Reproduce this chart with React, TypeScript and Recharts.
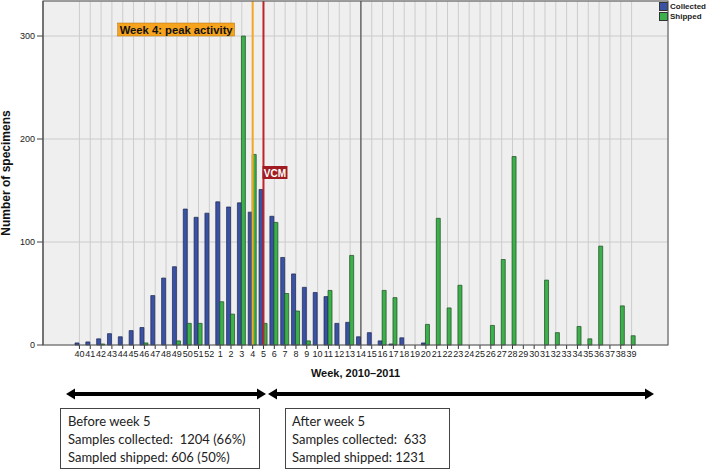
import React from 'react';
import {
    BarChart,
    Bar,
    XAxis,
    YAxis,
    CartesianGrid,
    ReferenceLine,
    Legend,
} from 'recharts';

const weeks = [
    '40', '41', '42', '43', '44', '45', '46', '47', '48', '49', '50', '51', '52',
    '1', '2', '3', '4', '5', '6', '7', '8', '9', '10', '11', '12', '13',
    '14', '15', '16', '17', '18', '19', '20', '21', '22', '23', '24', '25', '26',
    '27', '28', '29', '30', '31', '32', '33', '34', '35', '36', '37', '38', '39',
];

const collected = [
    2, 3, 6, 11, 8, 14, 17, 48, 65, 76, 132, 124, 128,
    139, 134, 138, 129, 151, 125, 85, 69, 56, 51, 47, 21, 22,
    8, 12, 4, 1, 7, 0, 2, 0, 0, 0, 0, 0, 0,
    0, 0, 0, 0, 0, 0, 0, 0, 0, 0, 0, 0, 0,
];

const shipped = [
    0, 0, 1, 0, 0, 0, 2, 0, 0, 4, 21, 21, 0,
    42, 30, 300, 185, 21, 119, 50, 33, 4, 0, 53, 0, 87,
    0, 0, 53, 46, 0, 0, 20, 123, 36, 58, 0, 0, 19,
    83, 183, 0, 0, 63, 12, 0, 18, 6, 96, 0, 38, 9,
];

const yTicks = [0, 100, 200, 300];

const data = weeks.map((week, i) => ({
    week,
    collected: collected[i],
    shipped: shipped[i],
}));

const BLUE = '#3a52a4';
const GREEN = '#3cb04a';

const renderLegend = () => (
    <div style={{ fontFamily: 'Liberation Sans, Arial', fontSize: 8, fontWeight: 'bold', color: '#222', lineHeight: '9.5px' }}>
        {[['Collected', BLUE], ['Shipped', GREEN]].map(([name, color]) => (
            <div key={name} style={{ display: 'flex', alignItems: 'center' }}>
                <span style={{ display: 'inline-block', width: 7, height: 7, background: color, border: '1px solid #333', marginRight: 2 }} />
                {name}
            </div>
        ))}
    </div>
);

const PeakLabel = (props: any) => {
    const x = props.viewBox.x;
    return (
        <g>
            <rect x={x - 135} y={23} width={117} height={13} fill="#f6a31e" stroke="#b07010" strokeWidth={0.5} />
            <text
                x={x - 133}
                y={34}
                fontSize={11.5}
                fontWeight="bold"
                fill="#111"
                textLength={113}
                lengthAdjust="spacingAndGlyphs"
            >
                Week 4: peak activity
            </text>
        </g>
    );
};

const VcmLabel = (props: any) => {
    const x = props.viewBox.x;
    return (
        <g>
            <rect x={x - 1} y={166} width={25} height={13} fill="#a11c22" />
            <text x={x + 11.5} y={176.5} textAnchor="middle" fontSize={10} fontWeight="bold" fill="#fff">
                VCM
            </text>
        </g>
    );
};

const YLabel = (props: any) => {
    const vb = props.viewBox;
    const cy = vb.y + vb.height / 2;
    return (
        <text x={10} y={cy} transform={`rotate(-90, 10, ${cy})`} textAnchor="middle" fontSize={12} fontWeight="bold" fill="#111">
            Number of specimens
        </text>
    );
};

const boxText = { fontSize: 13, fill: '#222', whiteSpace: 'pre' } as const;

export default function App() {
    return (
        <div style={{ position: 'absolute', left: 0, top: 0, width: 709, height: 470, background: '#fff' }}>
            <BarChart
                width={709}
                height={470}
                data={data}
                margin={{ top: 1, right: 41, left: 0, bottom: 105 }}
                barCategoryGap={1}
                barGap={0}
                style={{ fontFamily: 'Liberation Sans, Arial' }}
            >
                <CartesianGrid
                    fill="#efefef"
                    horizontal={{ stroke: '#555', strokeWidth: 1 }}
                    vertical={{ stroke: '#707070', strokeWidth: 1 }}
                />
                <XAxis
                    dataKey="week"
                    interval={0}
                    height={20}
                    padding={{ left: 31, right: 31 }}
                    axisLine={false}
                    tickSize={4}
                    tickLine={{ stroke: '#333' }}
                    tick={{ fontSize: 9, fill: '#222' }}
                    label={{ value: 'Week, 2010–2011', position: 'bottom', offset: 4, fontSize: 11, fontWeight: 'bold', fill: '#111' }}
                />
                <YAxis
                    width={43}
                    domain={[0, 334]}
                    ticks={yTicks}
                    axisLine={{ stroke: '#444' }}
                    tickSize={6}
                    tickLine={{ stroke: '#444' }}
                    tick={{ fontSize: 9, fill: '#222' }}
                    label={<YLabel />}
                />
                <Bar dataKey="collected" name="Collected" fill={BLUE} stroke="#1c2550" strokeWidth={0.7} isAnimationActive={false} />
                <Bar dataKey="shipped" name="Shipped" fill={GREEN} stroke="#1d4a22" strokeWidth={0.7} isAnimationActive={false} />
                <ReferenceLine x="14" stroke="#333" strokeWidth={1} />
                <ReferenceLine x="4" stroke="#f5a623" strokeWidth={2} label={<PeakLabel />} />
                <ReferenceLine x="5" stroke="#c0242b" strokeWidth={2} label={<VcmLabel />} />
                <Legend
                    layout="vertical"
                    align="center"
                    verticalAlign="middle"
                    content={renderLegend}
                    wrapperStyle={{ position: 'absolute', top: 2, left: 659, width: 50 }}
                />
            </BarChart>
            <svg
                width={709}
                height={470}
                style={{ position: 'absolute', left: 0, top: 0, pointerEvents: 'none', fontFamily: 'Lato, Liberation Sans' }}
            >
                <rect x={43} y={1} width={625} height={344} fill="none" stroke="#555" strokeWidth={1} />
                {/* double arrows */}
                <line x1={72} y1={394} x2={260} y2={394} stroke="#000" strokeWidth={4} />
                <polygon points="66,394 75,388.5 75,399.5" fill="#000" />
                <polygon points="266,394 257,388.5 257,399.5" fill="#000" />
                <line x1={274} y1={394} x2={648} y2={394} stroke="#000" strokeWidth={4} />
                <polygon points="268,394 277,388.5 277,399.5" fill="#000" />
                <polygon points="654,394 645,388.5 645,399.5" fill="#000" />
                {/* summary boxes */}
                <rect x={60.5} y={408.5} width={199} height={60} fill="#fff" stroke="#444" />
                <text x={68} y={426} style={boxText}>Before week 5</text>
                <text x={68} y={444} style={boxText}>{'Samples collected:  1204 (66%)'}</text>
                <text x={68} y={462} style={boxText}>Sampled shipped: 606 (50%)</text>
                <rect x={285.5} y={408.5} width={164} height={60} fill="#fff" stroke="#444" />
                <text x={292} y={426} style={boxText}>After week 5</text>
                <text x={292} y={444} style={boxText}>{'Samples collected:  633'}</text>
                <text x={292} y={462} style={boxText}>Sampled shipped: 1231</text>
            </svg>
        </div>
    );
}
